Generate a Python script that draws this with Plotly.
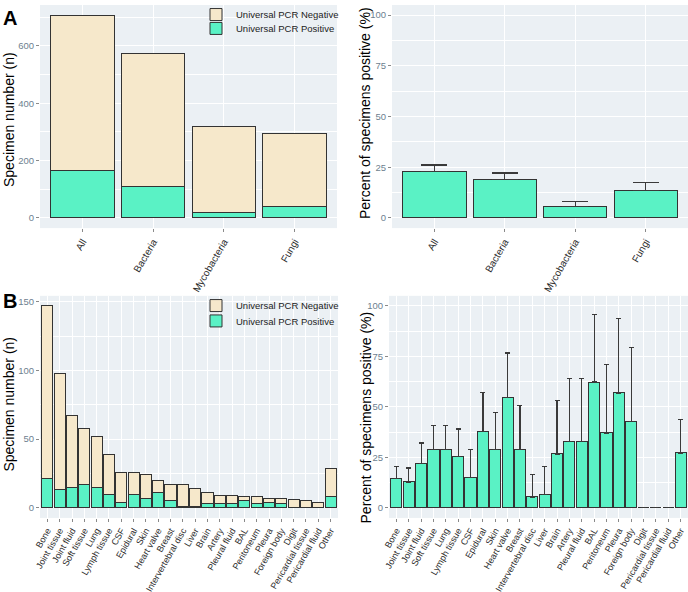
import plotly.graph_objects as go

# ---------------- data ----------------
a_categories = ["All", "Bacteria", "Mycobacteria", "Fungi"]
a_total = [707, 573, 319, 294]
a_positive = [164, 110, 18, 40]
a_percent = [23.1, 19.0, 5.7, 13.6]
a_ci_upper = [26.1, 22.2, 8.2, 17.5]

b_categories = ["Bone", "Joint tissue", "Joint fluid", "Soft tissue", "Lung",
                "Lymph tissue", "CSF", "Epidural", "Skin", "Heart valve", "Breast",
                "Intervertebral disc", "Liver", "Brain", "Artery", "Pleural fluid",
                "BAL", "Peritoneum", "Pleura", "Foreign body", "Digit",
                "Pericardial tissue", "Pericardial fluid", "Other"]
b_total = [147, 98, 67, 58, 52, 39, 26, 26, 24, 20, 17, 17, 14, 11, 9, 9, 8, 8, 7, 7, 6, 5, 4, 29]
b_positive = [21, 13, 15, 17, 15, 10, 4, 10, 7, 11, 5, 1, 1, 3, 3, 3, 5, 3, 4, 3, 0, 0, 0, 8]
b_percent = [14.6, 12.8, 22.0, 29.0, 28.7, 25.3, 14.9, 38.0, 28.9, 54.8, 29.0, 5.4,
             6.8, 26.7, 33.0, 33.0, 62.3, 37.1, 56.9, 42.6, 0, 0, 0, 27.2]
b_ci_upper = [20.3, 19.7, 32.1, 40.8, 40.8, 39.0, 29.0, 57.0, 47.2, 76.7, 50.7, 16.7,
              20.3, 53.3, 63.9, 64.0, 95.9, 71.0, 93.8, 79.3, None, None, None, 43.6]

legend_names = ["Universal PCR Negative", "Universal PCR Positive"]

# ---------------- styles ----------------
NEG = "#F6E8CB"
POS = "#5AF2C5"
EDGE = "#333333"
BG = "#EBF0F4"
FONT = "Liberation Sans, Arial, sans-serif"
YTICK = "#6E7F8F"

W, H = 688, 592


def neg_of(tot, pos):
    return [t - p for t, p in zip(tot, pos)]


def err_plus(pct, up):
    return [None if u is None else u - p for p, u in zip(pct, up)]


fig = go.Figure()

# Panel A left: stacked counts
fig.add_trace(go.Bar(x=a_categories, y=a_positive, name=legend_names[1], xaxis="x", yaxis="y",
                     marker=dict(color=POS, line=dict(color=EDGE, width=1)), width=0.9,
                     legend="legend2"))
fig.add_trace(go.Bar(x=a_categories, y=neg_of(a_total, a_positive), name=legend_names[0],
                     xaxis="x", yaxis="y",
                     marker=dict(color=NEG, line=dict(color=EDGE, width=1)), width=0.9,
                     legend="legend"))
# Panel A right: percent
fig.add_trace(go.Bar(x=a_categories, y=a_percent, xaxis="x2", yaxis="y2", showlegend=False,
                     marker=dict(color=POS, line=dict(color=EDGE, width=1)), width=0.9,
                     error_y=dict(type="data", symmetric=False, array=err_plus(a_percent, a_ci_upper),
                                  arrayminus=[0] * len(a_percent), color="#3a3a3a",
                                  thickness=1.2, width=13)))
# Panel B left
fig.add_trace(go.Bar(x=b_categories, y=b_positive, name=legend_names[1], xaxis="x3", yaxis="y3",
                     marker=dict(color=POS, line=dict(color=EDGE, width=1)), width=0.9,
                     legend="legend4"))
fig.add_trace(go.Bar(x=b_categories, y=neg_of(b_total, b_positive), name=legend_names[0],
                     xaxis="x3", yaxis="y3",
                     marker=dict(color=NEG, line=dict(color=EDGE, width=1)), width=0.9,
                     legend="legend3"))
# Panel B right
fig.add_trace(go.Bar(x=b_categories, y=b_percent, xaxis="x4", yaxis="y4", showlegend=False,
                     marker=dict(color=POS, line=dict(color=EDGE, width=1)), width=0.9,
                     error_y=dict(type="data", symmetric=False, array=err_plus(b_percent, b_ci_upper),
                                  arrayminus=[0] * len(b_percent), color="#3a3a3a",
                                  thickness=1.2, width=2.5)))


def xax(domain, anchor, n, size):
    return dict(domain=domain, anchor=anchor, type="category", range=[-0.6, n - 0.4],
                showgrid=True, gridcolor="white", gridwidth=1, zeroline=False,
                ticks="outside", ticklen=3, tickcolor="#8a8a8a", tickangle=-60,
                tickfont=dict(size=size, color="#2a2a2a", family=FONT),
                showline=False, automargin=False)


def yax(domain, anchor, rng, dtick, minor):
    return dict(domain=domain, anchor=anchor, range=rng, dtick=dtick, tick0=0,
                showgrid=True, gridcolor="white", gridwidth=1, zeroline=False,
                minor=dict(dtick=minor, tick0=0, showgrid=True, gridcolor="white",
                           gridwidth=0.5, ticks=""),
                ticks="outside", ticklen=3, tickcolor="#8a8a8a",
                tickfont=dict(size=9.5, color=YTICK, family=FONT),
                showline=False, automargin=False)


def leg(top_px):
    return dict(x=196 / W, y=1 - top_px / H, xanchor="left", yanchor="top",
                bgcolor="rgba(0,0,0,0)", font=dict(size=9.5, family=FONT, color="#222"),
                itemwidth=30)


yA = [1 - 225 / H, 1.0]
yB = [1 - 517.3 / H, 1 - 293.3 / H]

fig.update_layout(
    width=W, height=H,
    margin=dict(l=0, r=0, t=0, b=0),
    paper_bgcolor="white", plot_bgcolor=BG,
    barmode="stack",
    font=dict(family=FONT, color="black"),
    xaxis=xax([40 / W, 337 / W], "y", 4, 10),
    yaxis=yax(yA, "x", [-35.35, 742.35], 200, 100),
    xaxis2=xax([392 / W, 1.0], "y2", 4, 10),
    yaxis2=yax(yA, "x2", [-5, 105], 25, 12.5),
    xaxis3=xax([40 / W, 338 / W], "y3", 24, 9),
    yaxis3=yax(yB, "x3", [-7.35, 154.35], 50, 25),
    xaxis4=xax([389 / W, 1.0], "y4", 24, 9),
    yaxis4=yax(yB, "x4", [-5, 105], 25, 12.5),
    legend=leg(-5),
    legend2=leg(9),
    legend3=leg(288.5),
    legend4=leg(304),
    showlegend=True,
)

annotations = [
    dict(text="<b>A</b>", x=1 / W, y=1 - 13.5 / H, xanchor="left", yanchor="middle",
         font=dict(size=20, family=FONT, color="black")),
    dict(text="<b>B</b>", x=1 / W, y=1 - 298.5 / H, xanchor="left", yanchor="middle",
         font=dict(size=20, family=FONT, color="black")),
    dict(text="Specimen number (n)", x=9 / W, y=1 - 116 / H, textangle=-90,
         xanchor="center", yanchor="middle", font=dict(size=14, family=FONT, color="black")),
    dict(text="Percent of specimens positive (%)", x=365 / W, y=1 - 109 / H, textangle=-90,
         xanchor="center", yanchor="middle", font=dict(size=14, family=FONT, color="black")),
    dict(text="Specimen number (n)", x=9 / W, y=1 - 403 / H, textangle=-90,
         xanchor="center", yanchor="middle", font=dict(size=14, family=FONT, color="black")),
    dict(text="Percent of specimens positive (%)", x=366 / W, y=1 - 416 / H, textangle=-90,
         xanchor="center", yanchor="middle", font=dict(size=14, family=FONT, color="black")),
]
for a in annotations:
    a.update(xref="paper", yref="paper", showarrow=False)
fig.update_layout(annotations=annotations)

fig.write_html("out.html", config={"displayModeBar": False},
               post_script="document.body.style.margin='0px';document.body.style.overflow='hidden';")
